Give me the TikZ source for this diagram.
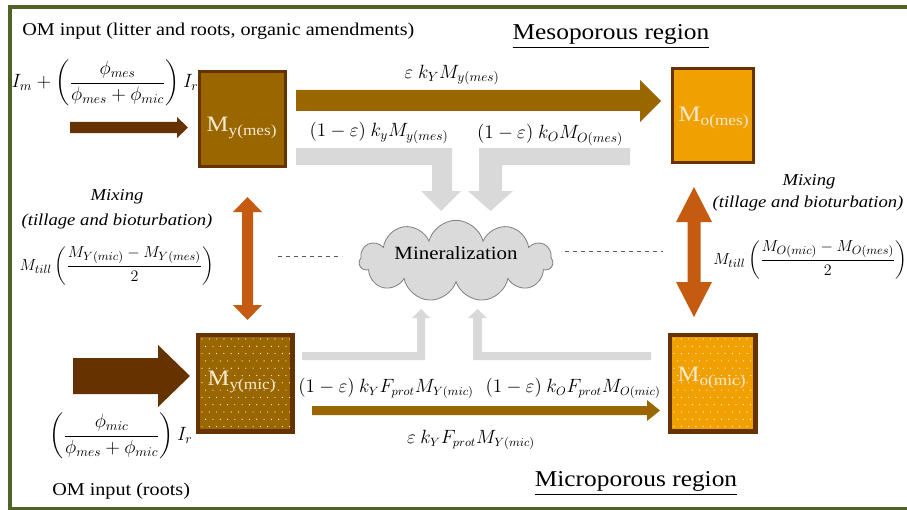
\documentclass[tikz,border=0pt]{standalone}
\usepackage{amsmath}
\usepackage{graphicx}
\usepackage{fontspec}
\setmainfont{Liberation Serif}
\usetikzlibrary{shapes.symbols}
\definecolor{frameg}{HTML}{4F6228}
\definecolor{brownf}{HTML}{996600}
\definecolor{darkb}{HTML}{663300}
\definecolor{orangef}{HTML}{F0A000}
\definecolor{mixo}{HTML}{C55A11}
\definecolor{grayar}{HTML}{D9D9D9}
\definecolor{cloudf}{HTML}{DADADA}
\definecolor{cloudb}{HTML}{7F7F7F}
\definecolor{lbl}{HTML}{F8EBD0}
\newcommand{\sx}[1]{\scalebox{1.12}[1]{#1}}
\begin{document}
\begin{tikzpicture}[x=0.75pt,y=-0.75pt,
  poolbox/.style={draw=darkb, line width=2.25pt, inner sep=0pt},
  boxlbl/.style={text=lbl, font=\fontsize{16.5}{18}\selectfont, inner sep=0pt},
  txt/.style={font=\fontsize{13.5}{15}\selectfont, inner sep=0pt},
  ttl/.style={font=\fontsize{17}{19}\selectfont, inner sep=0pt},
  mixtxt/.style={font=\fontsize{12.5}{14}\selectfont\itshape, inner sep=0pt},
  eq/.style={font=\fontsize{13.5}{15}\selectfont, inner sep=0pt},
  eqf/.style={font=\fontsize{14}{16}\selectfont, inner sep=0pt},
  grayarrow/.style={fill=grayar},
  dashline/.style={draw=black!65, dashed, line width=0.6pt}
]
\useasboundingbox (0,0) rectangle (907,510);
\clip (0,0) rectangle (907,510);
\fill[white] (0,0) rectangle (907,510);
\draw[frameg, line width=3pt] (10,7) rectangle (930,508.5);

% pools
\node[poolbox, fill=brownf, minimum width=64.5pt, minimum height=71.25pt] (ymes) at (242.5,119) {};
\node[poolbox, fill=orangef, minimum width=60.75pt, minimum height=70.5pt] (omes) at (713,115.5) {};
\node[poolbox, fill=brownf, minimum width=69.75pt, minimum height=71.25pt] (ymic) at (245,383) {};
\node[poolbox, fill=orangef, minimum width=63pt, minimum height=71.25pt] (omic) at (712.5,383) {};

% dots
\begin{scope}
  \clip (200,337) rectangle (290,429);
  \foreach \i in {0,...,13} \foreach \j in {0,...,13}
    \fill[white] ({202+\i*7.3+mod(\j,2)*3.65},{339+\j*7.3}) circle (0.45pt);
\end{scope}
\begin{scope}
  \clip (672,337) rectangle (753,429);
  \foreach \i in {0,...,12} \foreach \j in {0,...,13}
    \fill[white] ({674+\i*7.3+mod(\j,2)*3.65},{339+\j*7.3}) circle (0.45pt);
\end{scope}
\draw[darkb, line width=2.25pt] (ymic.south west) rectangle (ymic.north east);
\draw[darkb, line width=2.25pt] (omic.south west) rectangle (omic.north east);

\node[boxlbl] (lymes) at (242,128) {\sx{M\textsubscript{y(mes)}}};
\node[boxlbl] (lomes) at (714,118) {\sx{M\textsubscript{o(mes)}}};
\node[boxlbl] (lymic) at (242,382) {\sx{M\textsubscript{y(mic)}}};
\node[boxlbl] (lomic) at (712,378) {\sx{M\textsubscript{o(mic)}}};

% input arrows
\fill[darkb] (70,122) -- (177,122) -- (177,117) -- (188,127.5) -- (177,138) -- (177,133) -- (70,133) -- cycle;
\fill[darkb] (73,358) -- (158,358) -- (158,345) -- (190,376) -- (158,407) -- (158,394) -- (73,394) -- cycle;

% transfer arrows
\fill[brownf] (296,90) -- (640,90) -- (640,80) -- (661,101) -- (640,122) -- (640,111) -- (296,111) -- cycle;
\fill[brownf] (312,406) -- (647,406) -- (647,400) -- (660,410.5) -- (647,421) -- (647,415) -- (312,415) -- cycle;

% mixing arrows
\fill[mixo] (247.5,197) -- (262,212) -- (253,212) -- (253,305) -- (262,305) -- (247.5,320) -- (233,305) -- (242,305) -- (242,212) -- (233,212) -- cycle;
\fill[mixo] (694,187) -- (712,222) -- (700.5,222) -- (700.5,282) -- (712,282) -- (694,317) -- (676,282) -- (687.5,282) -- (687.5,222) -- (676,222) -- cycle;

% mineralization arrows
\fill[grayarrow] (296,148) -- (452,148) -- (452,191) -- (461,191) -- (441,211) -- (421,191) -- (432,191) -- (432,165) -- (296,165) -- cycle;
\fill[grayarrow] (630,148) -- (479,148) -- (479,191) -- (468,191) -- (490.5,211) -- (513,191) -- (502,191) -- (502,165) -- (630,165) -- cycle;
\fill[grayarrow] (302,352) -- (417,352) -- (417,318) -- (412,318) -- (421,309) -- (430,318) -- (425,318) -- (425,360) -- (302,360) -- cycle;
\fill[grayarrow] (651,352) -- (482,352) -- (482,318) -- (487,318) -- (477.5,309) -- (468,318) -- (473,318) -- (473,360) -- (651,360) -- cycle;

% cloud
\node[cloud, cloud puffs=11, aspect=2.4, draw=cloudb, fill=cloudf, line width=0.6pt,
      minimum width=145pt, minimum height=61pt, inner sep=0pt] (minz) at (456,261) {};
\node[font=\fontsize{14}{16}\selectfont, inner sep=0pt] (minlbl) at (456,253) {\sx{Mineralization}};

% dashed lines
\coordinate (dl1) at (278,256); \coordinate (dl2) at (342,256);
\coordinate (dr1) at (565,251); \coordinate (dr2) at (663,251);
\draw[dashline] (dl1) -- (dl2);
\draw[dashline] (dr1) -- (dr2);

% texts
\node[txt, anchor=west] (omtop) at (22,31) {\sx{OM input (litter and roots, organic amendments)}};
\node[txt, anchor=west] (ombot) at (52,491) {\sx{OM input (roots)}};
\node[ttl] (meso) at (611,37) {\sx{\underline{Mesoporous region}}};
\node[ttl] (micro) at (636,484) {\sx{\underline{Microporous region}}};

\node[mixtxt] (mixl1) at (117,197) {\sx{Mixing}};
\node[mixtxt] (mixl2) at (117,221) {\sx{(tillage and bioturbation)}};
\node[mixtxt] (mixr1) at (809,182) {\sx{Mixing}};
\node[mixtxt] (mixr2) at (808,203) {\sx{(tillage and bioturbation)}};

\node[eqf] (eqin1) at (105,83) {$I_m+\left(\dfrac{\phi_{mes}}{\phi_{mes}+\phi_{mic}}\right)I_r$};
\node[eqf] (eqin2) at (121,436) {$\left(\dfrac{\phi_{mic}}{\phi_{mes}+\phi_{mic}}\right)I_r$};
\node[eq, font=\fontsize{13}{15}\selectfont] (eqtill1) at (117,266) {$M_{till}\left(\dfrac{M_{Y(mic)}-M_{Y(mes)}}{2}\right)$};
\node[eq, font=\fontsize{13}{15}\selectfont, anchor=west] (eqtill2) at (713,260) {$M_{till}\left(\dfrac{M_{O(mic)}-M_{O(mes)}}{2}\right)$};

\node[eq, font=\fontsize{14.5}{16}\selectfont] (f1) at (452,75) {$\varepsilon\ k_Y M_{y(mes)}$};
\node[eq, font=\fontsize{14}{16}\selectfont] (f2) at (379,133) {$(1-\varepsilon)\ k_y M_{y(mes)}$};
\node[eq, font=\fontsize{14}{16}\selectfont] (f3) at (550,135) {$(1-\varepsilon)\ k_O M_{O(mes)}$};
\node[eq] (f4) at (386,388) {$(1-\varepsilon)\ k_Y F_{prot} M_{Y(mic)}$};
\node[eq] (f5) at (573,388) {$(1-\varepsilon)\ k_O F_{prot} M_{O(mic)}$};
\node[eq] (f6) at (471,440) {$\varepsilon\ k_Y F_{prot} M_{Y(mic)}$};
\end{tikzpicture}
\end{document}
